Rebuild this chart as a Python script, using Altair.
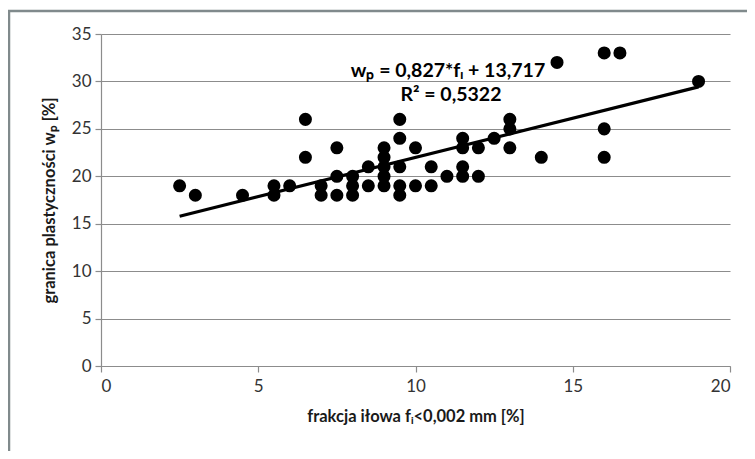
import altair as alt
import pandas as pd

# clay fraction f_i [%]
fi = [2.5, 3, 4.5, 5.5, 5.5, 6, 6.5, 6.5, 7, 7,
      7.5, 7.5, 7.5, 8, 8, 8, 8.5, 8.5,
      9, 9, 9, 9, 9, 9.5, 9.5, 9.5, 9.5, 9.5,
      10, 10, 10.5, 10.5, 11, 11.5, 11.5, 11.5, 11.5,
      12, 12, 12.5, 13, 13, 13, 14, 14.5, 16, 16, 16, 16.5, 19]
# plastic limit w_P [%]
wp = [19, 18, 18, 19, 18, 19, 26, 22, 19, 18,
      23, 20, 18, 20, 19, 18, 21, 19,
      23, 22, 21, 20, 19, 26, 24, 21, 19, 18,
      23, 19, 21, 19, 20, 24, 23, 21, 20,
      23, 20, 24, 26, 25, 23, 22, 32, 33, 25, 22, 33, 30]

# trendline coefficients as printed on the chart
slope = 0.827
intercept = 13.717

eq_line1 = ["w\u209a = 0,827*f\u1d62 + 13,717"]
eq_line2 = ["R\u00b2 = 0,5322"]

x_title = "frakcja iłowa f\u1d62<0,002 mm [%]"
y_title = "granica plastyczności w\u209a [%]"

df = pd.DataFrame({"fi": fi, "wp": wp})

FONT = "Lato"
GRID = "#8c8c8c"

xs = alt.X("fi:Q", scale=alt.Scale(domain=[0, 20], nice=False),
           axis=alt.Axis(title=x_title, values=[0, 5, 10, 15, 20], grid=False,
                         tickSize=6, labelPadding=6, titlePadding=14))
ys = alt.Y("wp:Q", scale=alt.Scale(domain=[0, 35], nice=False),
           axis=alt.Axis(title=y_title, values=[0, 5, 10, 15, 20, 25, 30, 35],
                         grid=True, tickSize=6, labelPadding=4, titlePadding=14))

points = alt.Chart(df).mark_circle(size=170, color="black", opacity=1).encode(x=xs, y=ys)

trend = alt.Chart(df).transform_aggregate(
    xmin="min(fi)", xmax="max(fi)"
).transform_fold(["xmin", "xmax"], as_=["k", "fx"]).transform_calculate(
    fy=f"{slope} * datum.fx + {intercept}"
).mark_line(color="black", strokeWidth=3.2).encode(x="fx:Q", y="fy:Q")

eq1 = alt.Chart(pd.DataFrame({"t": eq_line1})).mark_text(
    font=FONT, fontSize=19.5, fontWeight="bold", color="black", align="center",
    baseline="middle").encode(x=alt.value(347), y=alt.value(37), text="t:N")
eq2 = alt.Chart(pd.DataFrame({"t": eq_line2})).mark_text(
    font=FONT, fontSize=19.5, fontWeight="bold", color="black", align="center",
    baseline="middle").encode(x=alt.value(350), y=alt.value(61), text="t:N")

one = pd.DataFrame({"a": [0]})
frame_left = alt.Chart(one).mark_rule(color="#808a8c", strokeWidth=2.5, clip=False).encode(
    x=alt.value(-92), y=alt.value(-23), y2=alt.value(440))
frame_top = alt.Chart(one).mark_rule(color="#808a8c", strokeWidth=2.5, clip=False).encode(
    x=alt.value(-93), x2=alt.value(660), y=alt.value(-23))

chart = alt.layer(frame_left, frame_top, points, trend, eq1, eq2).properties(
    width=629, height=332,
    autosize=alt.AutoSizeParams(type="none"),
    padding={"left": 93, "top": 26, "right": 17, "bottom": 85},
).configure_view(stroke=None).configure_axis(
    labelFont=FONT, titleFont=FONT, labelFontSize=17, labelColor="#333333",
    titleFontSize=16.5, titleFontWeight="bold", titleColor="#1a1a1a",
    domainColor=GRID, tickColor=GRID, gridColor=GRID, gridWidth=1.2,
    domainWidth=1.2, tickWidth=1.2,
)

chart.save("out.html", embed_options={"renderer": "svg", "actions": False})
